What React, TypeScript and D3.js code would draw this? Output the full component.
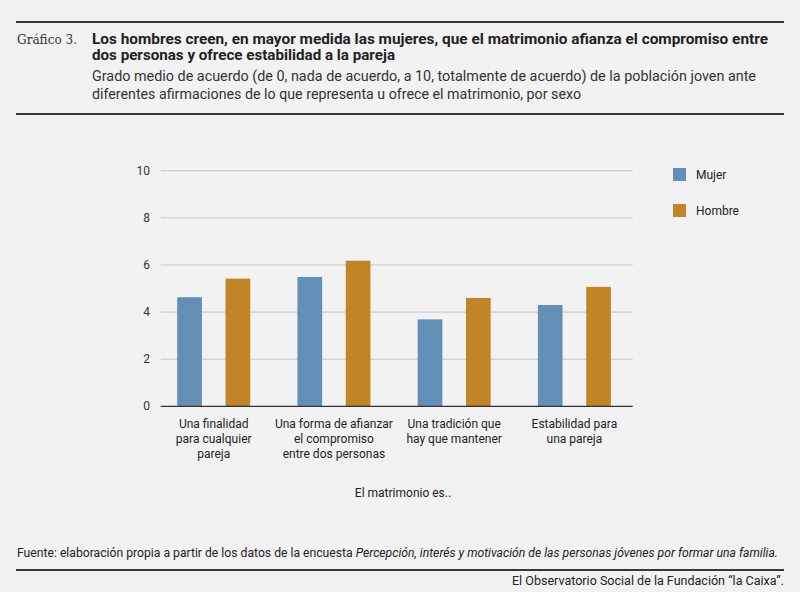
import React, { useEffect, useRef } from "react";
import * as d3 from "d3";

const categories = [
  ["Una finalidad", "para cualquier", "pareja"],
  ["Una forma de afianzar", "el compromiso", "entre dos personas"],
  ["Una tradición que", "hay que mantener"],
  ["Estabilidad para", "una pareja"],
];
const series = ["Mujer", "Hombre"];
const mujer = [4.63, 5.49, 3.69, 4.3];
const hombre = [5.42, 6.18, 4.6, 5.07];
const yTicks = [0, 2, 4, 6, 8, 10];
const colors = ["#638eb5", "#c08526"];

const Chart: React.FC = () => {
  const svgRef = useRef<SVGSVGElement | null>(null);

  useEffect(() => {
    const width = 800,
      height = 592;
    const svg = d3.select(svgRef.current).attr("width", width).attr("height", height);
    svg.selectAll("*").remove();

    svg.append("rect").attr("width", width).attr("height", height).attr("fill", "#f2f2f2");

    const dark = "#3a3634";
    const sans = "Roboto, 'Noto Sans', sans-serif";

    // header rules
    svg.append("line").attr("x1", 16).attr("x2", 784).attr("y1", 22).attr("y2", 22)
      .attr("stroke", dark).attr("stroke-width", 2);
    svg.append("line").attr("x1", 16).attr("x2", 784).attr("y1", 114).attr("y2", 114)
      .attr("stroke", dark).attr("stroke-width", 2);

    svg.append("text").attr("x", 17).attr("y", 44)
      .style("font-family", "'DejaVu Serif', 'Liberation Serif', serif")
      .style("font-size", "13px").attr("fill", "#333")
      .attr("textLength", 60).attr("lengthAdjust", "spacingAndGlyphs")
      .text("Gráfico 3.");

    const titleLines = [
      "Los hombres creen, en mayor medida las mujeres, que el matrimonio afianza el compromiso entre",
      "dos personas y ofrece estabilidad a la pareja",
    ];
    const titleLens = [676, 303];
    titleLines.forEach((t, i) => {
      svg.append("text").attr("x", 92).attr("y", 44 + i * 16)
        .style("font-family", sans).style("font-weight", "bold").style("font-size", "14px")
        .attr("fill", "#222")
        .attr("textLength", titleLens[i]).attr("lengthAdjust", "spacingAndGlyphs")
        .text(t);
    });

    const subLines = [
      "Grado medio de acuerdo (de 0, nada de acuerdo, a 10, totalmente de acuerdo) de la población joven ante",
      "diferentes afirmaciones de lo que representa u ofrece el matrimonio, por sexo",
    ];
    const subLens = [664, 489];
    subLines.forEach((t, i) => {
      svg.append("text").attr("x", 92).attr("y", 81 + i * 18)
        .style("font-family", sans).style("font-size", "14px").attr("fill", "#333")
        .attr("textLength", subLens[i]).attr("lengthAdjust", "spacingAndGlyphs")
        .text(t);
    });

    // plot
    const x0 = 160.7,
      x1 = 632.7;
    const y = d3.scaleLinear().domain([0, 10]).range([406.3, 170.7]);
    const xb = d3.scaleBand<number>().domain(d3.range(categories.length)).range([153.6, 634.5]);
    const xs = d3.scaleBand<string>().domain(series).range([0, 73]).paddingInner(0.489);
    const offset = (xb.bandwidth() - 73) / 2;

    const grid = svg.append("g");
    grid.selectAll("line").data(yTicks.filter((d) => d > 0)).enter().append("line")
      .attr("x1", x0).attr("x2", x1).attr("y1", (d) => y(d)).attr("y2", (d) => y(d))
      .attr("stroke", "#c4c4c4").attr("stroke-width", 1);

    grid.selectAll("text").data(yTicks).enter().append("text")
      .attr("x", 150).attr("y", (d) => y(d) + 4).attr("text-anchor", "end")
      .style("font-family", sans).style("font-size", "12px").attr("fill", "#333")
      .text((d) => d);

    const data = [mujer, hombre];
    series.forEach((s, si) => {
      svg.append("g").selectAll("rect").data(data[si]).enter().append("rect")
        .attr("x", (_d, i) => (xb(i) as number) + offset + (xs(s) as number))
        .attr("width", xs.bandwidth())
        .attr("y", (d) => y(d))
        .attr("height", (d) => y(0) - y(d))
        .attr("fill", colors[si]);
    });

    svg.append("line").attr("x1", x0).attr("x2", x1).attr("y1", y(0)).attr("y2", y(0))
      .attr("stroke", "#333").attr("stroke-width", 1.2);

    categories.forEach((lines, i) => {
      const cx = (xb(i) as number) + xb.bandwidth() / 2;
      const t = svg.append("text").attr("text-anchor", "middle")
        .style("font-family", sans).style("font-size", "12px").attr("fill", "#222");
      lines.forEach((l, li) => {
        t.append("tspan").attr("x", cx).attr("y", 428 + li * 15).text(l);
      });
    });

    svg.append("text").attr("x", 403).attr("y", 497).attr("text-anchor", "middle")
      .style("font-family", sans).style("font-size", "12px").attr("fill", "#222")
      .text("El matrimonio es..");

    // legend
    series.forEach((s, i) => {
      svg.append("rect").attr("x", 673).attr("y", 168 + i * 36).attr("width", 13).attr("height", 13)
        .attr("fill", colors[i]);
      svg.append("text").attr("x", 696).attr("y", 179 + i * 36)
        .style("font-family", sans).style("font-size", "12px").attr("fill", "#222")
        .text(s);
    });

    // footer
    const foot = svg.append("text").attr("x", 17).attr("y", 557)
      .style("font-family", sans).style("font-size", "12px").attr("fill", "#222")
      .attr("textLength", 761).attr("lengthAdjust", "spacingAndGlyphs");
    foot.append("tspan").text("Fuente: elaboración propia a partir de los datos de la encuesta ");
    foot.append("tspan").style("font-style", "italic")
      .text("Percepción, interés y motivación de las personas jóvenes por formar una familia.");

    svg.append("line").attr("x1", 16).attr("x2", 784).attr("y1", 570).attr("y2", 570)
      .attr("stroke", dark).attr("stroke-width", 2);

    svg.append("text").attr("x", 784).attr("y", 585).attr("text-anchor", "end")
      .style("font-family", sans).style("font-size", "12px").attr("fill", "#222")
      .attr("textLength", 272).attr("lengthAdjust", "spacingAndGlyphs")
      .text("El Observatorio Social de la Fundación “la Caixa”.");
  }, []);

  return (
    <svg
      ref={svgRef}
      style={{ display: "block", position: "absolute", left: 0, top: 0 }}
    ></svg>
  );
};

export default function App() {
  return <Chart />;
}
